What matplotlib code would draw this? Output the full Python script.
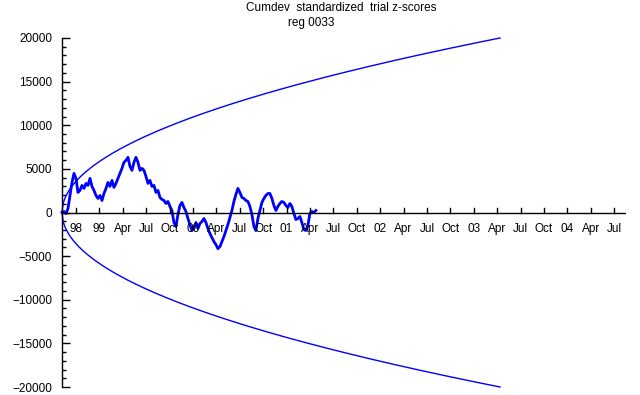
import numpy as np
import matplotlib
matplotlib.use("Agg")
import matplotlib.pyplot as plt
from matplotlib.ticker import MultipleLocator

# ---- data ----
tick_labels = ["98", "99", "Apr", "Jul", "Oct", "00", "Apr", "Jul", "Oct",
               "01", "Apr", "Jul", "Oct", "02", "Apr", "Jul", "Oct",
               "03", "Apr", "Jul", "Oct", "04", "Apr", "Jul"]
quarter_days = 91.3          # spacing of date ticks (days)
first_tick_day = 54.6        # day of first tick
sample_days = 7.8            # spacing of cumdev samples (days)
envelope_end_day = 1709.0    # last day of the envelope
envelope_end_value = 20000.0 # envelope value at its end

cumdev = [0, 115, -115, 460, 1955, 3450, 4485, 3910, 2300, 2530, 3105, 2760,
          3335, 3105, 3910, 2990, 2530, 1955, 1610, 1955, 1380, 2185, 2760,
          3450, 2990, 3680, 2875, 3335, 3910, 4485, 5060, 5750, 5980, 6325,
          5290, 4830, 5750, 6325, 5750, 4830, 5060, 4830, 4140, 3335, 3680,
          2990, 3105, 2300, 2530, 1725, 1495, 1380, 1035, 1265, 690, 230,
          -1150, -1610, -230, 805, 1150, 575, 115, -690, -1380, -2070, -1840,
          -1150, -1840, -1265, -1035, -690, -1150, -1840, -2415, -2875, -3335,
          -3680, -4140, -3910, -3335, -2760, -2070, -1380, -575, 230, 1265,
          2070, 2760, 2300, 1725, 1610, 1380, 1265, 690, -230, -1610, -2070,
          -690, 230, 1150, 1610, 1955, 2185, 2185, 1610, 805, 230, 690, 1035,
          1265, 1150, 805, 575, 1035, 690, -115, -805, -690, -460, -1150,
          -1955, -2070, -1495, -115, 115, 0, 230]

days = np.arange(len(cumdev)) * sample_days
env_t = np.linspace(0, envelope_end_day, 400)
env = envelope_end_value * np.sqrt(env_t / envelope_end_day)

tick_pos = first_tick_day + quarter_days * np.arange(len(tick_labels))
x_max = 2200.6

# ---- figure ----
plt.rcParams['font.family'] = ['Liberation Sans', 'DejaVu Sans']
fig = plt.figure(figsize=(6.4, 3.95), dpi=100)
ax = fig.add_axes([62/640, 1 - 387/395, (626 - 62)/640, (387 - 38)/395])

blue = (0, 0, 1)
ax.plot(env_t, env, color=blue, lw=1.0, clip_on=False)
ax.plot(env_t, -env, color=blue, lw=1.0, clip_on=False)
ax.plot(days, cumdev, color=blue, lw=2.0, clip_on=False)

ax.set_xlim(0, x_max)
ax.set_ylim(-20000, 20000)

for s in ['top', 'right', 'bottom']:
    ax.spines[s].set_visible(False)
ax.spines['left'].set_linewidth(1.0)
ax.axhline(0, color='black', lw=1.0, xmin=0, xmax=1)

ax.set_yticks(np.arange(-20000, 20001, 5000))
ax.yaxis.set_minor_locator(MultipleLocator(1000))
ax.tick_params(axis='y', which='major', direction='in', length=6, width=1,
               labelsize=8.5, pad=7)
ax.tick_params(axis='y', which='minor', direction='in', length=3, width=1)

ax.set_xticks([])
for p, lab in zip(tick_pos, tick_labels):
    ax.plot([p, p], [0, 500], color='black', lw=1.0)
    ax.text(p, -1200, lab, ha='center', va='top', fontsize=8.5)

fig.text(341/640, 1 - 8/395, "Cumdev  standardized  trial z-scores",
         ha='center', va='center', fontsize=8.5)
fig.text(311/640, 1 - 23/395, "reg 0033", ha='center', va='center',
         fontsize=8.5)

fig.savefig("out.png", dpi=100)
